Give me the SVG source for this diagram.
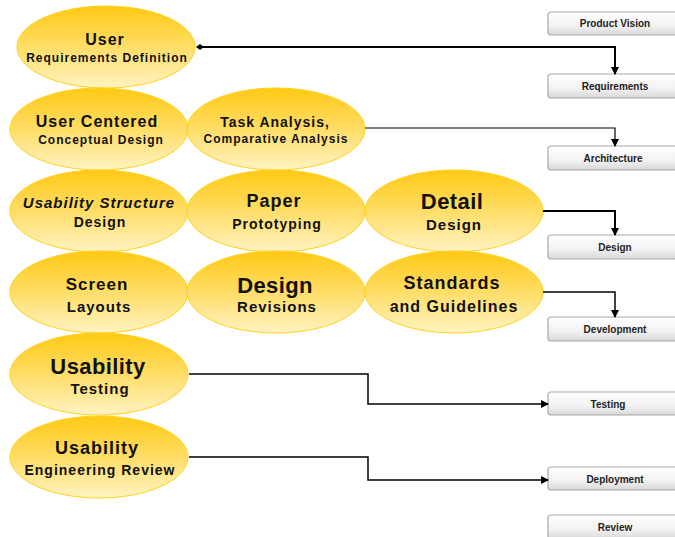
<svg xmlns="http://www.w3.org/2000/svg" width="675" height="537" viewBox="0 0 675 537">
<style>
.el{fill:url(#gold);stroke:#FFD21A;stroke-width:1}
.bx{fill:url(#grey);stroke:#A8A8A8;stroke-width:1.2}
text{font-family:"Liberation Sans",Arial,sans-serif;font-weight:bold;fill:#111;text-anchor:middle}
#ellipses text{letter-spacing:1px}
#ellipses text.big{letter-spacing:0.4px}
.bl{font-size:10px;fill:#222}
.c{fill:none;stroke:#000}
</style>
<defs>
<linearGradient id="gold" x1="0" y1="0" x2="0" y2="1">
<stop offset="0" stop-color="#FFC914"/>
<stop offset="0.45" stop-color="#FFDB5E"/>
<stop offset="1" stop-color="#FFF3C2"/>
</linearGradient>
<linearGradient id="grey" x1="0" y1="0" x2="0" y2="1">
<stop offset="0" stop-color="#FFFFFF"/>
<stop offset="0.6" stop-color="#F2F2F2"/>
<stop offset="1" stop-color="#D8D8D8"/>
</linearGradient>
<marker id="ah" markerWidth="8" markerHeight="8" refX="7" refY="4" orient="auto" markerUnits="userSpaceOnUse">
<path d="M0,0 L8,4 L0,8 Z" fill="#000"/>
</marker>
<marker id="tail" markerWidth="8" markerHeight="8" refX="1" refY="4" orient="auto" markerUnits="userSpaceOnUse">
<path d="M0,4 L4,1 L8,4 L4,7 Z" fill="#000"/>
</marker>
</defs>

<g id="boxes">
<g id="b-vision"><rect class="bx" x="548" y="12" width="140" height="23" rx="3"/><text class="bl" x="615" y="27">Product Vision</text></g>
<g id="b-req"><rect class="bx" x="548" y="74" width="140" height="24" rx="3"/><text class="bl" x="615" y="90">Requirements</text></g>
<g id="b-arch"><rect class="bx" x="548" y="146" width="140" height="24" rx="3"/><text class="bl" x="613" y="162">Architecture</text></g>
<g id="b-design"><rect class="bx" x="548" y="235" width="140" height="24" rx="3"/><text class="bl" x="615" y="251">Design</text></g>
<g id="b-dev"><rect class="bx" x="548" y="317" width="140" height="24" rx="3"/><text class="bl" x="615" y="333">Development</text></g>
<g id="b-test"><rect class="bx" x="548" y="392" width="140" height="23" rx="3"/><text class="bl" x="608" y="408">Testing</text></g>
<g id="b-deploy"><rect class="bx" x="548" y="467" width="140" height="23" rx="3"/><text class="bl" x="615" y="483">Deployment</text></g>
<g id="b-review"><rect class="bx" x="548" y="515" width="140" height="24" rx="3"/><text class="bl" x="615" y="531">Review</text></g>
</g>

<g id="ellipses">
<g id="e-ureq"><ellipse class="el" cx="106" cy="47" rx="89" ry="41"/><text x="105" y="45" font-size="16">User</text><text x="107" y="62" font-size="12">Requirements Definition</text></g>
<g id="e-ucd"><ellipse class="el" cx="99" cy="129" rx="89" ry="41"/><text x="97" y="127" font-size="16">User Centered</text><text x="101" y="144" font-size="12">Conceptual Design</text></g>
<g id="e-task"><ellipse class="el" cx="276" cy="129" rx="89" ry="41"/><text x="275" y="127" font-size="14">Task Analysis,</text><text x="276" y="143" font-size="12">Comparative Analysis</text></g>
<g id="e-usd"><ellipse class="el" cx="99" cy="211" rx="89" ry="41"/><text x="99" y="208" font-size="15" font-style="italic">Usability Structure</text><text x="100" y="227" font-size="14">Design</text></g>
<g id="e-paper"><ellipse class="el" cx="276" cy="211" rx="89" ry="41"/><text x="274" y="207" font-size="18">Paper</text><text x="277" y="229" font-size="14">Prototyping</text></g>
<g id="e-detail"><ellipse class="el" cx="454" cy="211" rx="89" ry="41"/><text class="big" x="452" y="209" font-size="22">Detail</text><text x="454" y="230" font-size="15">Design</text></g>
<g id="e-screen"><ellipse class="el" cx="99" cy="292" rx="89" ry="41"/><text x="97" y="290" font-size="17">Screen</text><text x="99" y="312" font-size="15">Layouts</text></g>
<g id="e-drev"><ellipse class="el" cx="276" cy="292" rx="89" ry="41"/><text class="big" x="275" y="293" font-size="22">Design</text><text x="277" y="312" font-size="15">Revisions</text></g>
<g id="e-std"><ellipse class="el" cx="454" cy="292" rx="89" ry="41"/><text x="452" y="289" font-size="18">Standards</text><text x="454" y="312" font-size="16">and Guidelines</text></g>
<g id="e-utest"><ellipse class="el" cx="99" cy="374" rx="89" ry="41"/><text class="big" x="98" y="374" font-size="22">Usability</text><text x="100" y="394" font-size="15">Testing</text></g>
<g id="e-uer"><ellipse class="el" cx="99" cy="457" rx="89" ry="41"/><text x="97" y="454" font-size="18">Usability</text><text x="100" y="475" font-size="14">Engineering Review</text></g>
</g>

<g id="connectors">
<path class="c" stroke-width="2" d="M197,47 H615 V74" marker-start="url(#tail)" marker-end="url(#ah)"/>
<path class="c" stroke-width="1.2" d="M365,128 H615 V146" marker-end="url(#ah)"/>
<path class="c" stroke-width="2" d="M543,211 H615 V235" marker-end="url(#ah)"/>
<path class="c" stroke-width="1.5" d="M543,292 H615 V317" marker-end="url(#ah)"/>
<path class="c" stroke-width="1.5" d="M189,374 H368 V404 H548" marker-end="url(#ah)"/>
<path class="c" stroke-width="1.5" d="M189,457 H368 V480 H548" marker-end="url(#ah)"/>
</g>
</svg>
